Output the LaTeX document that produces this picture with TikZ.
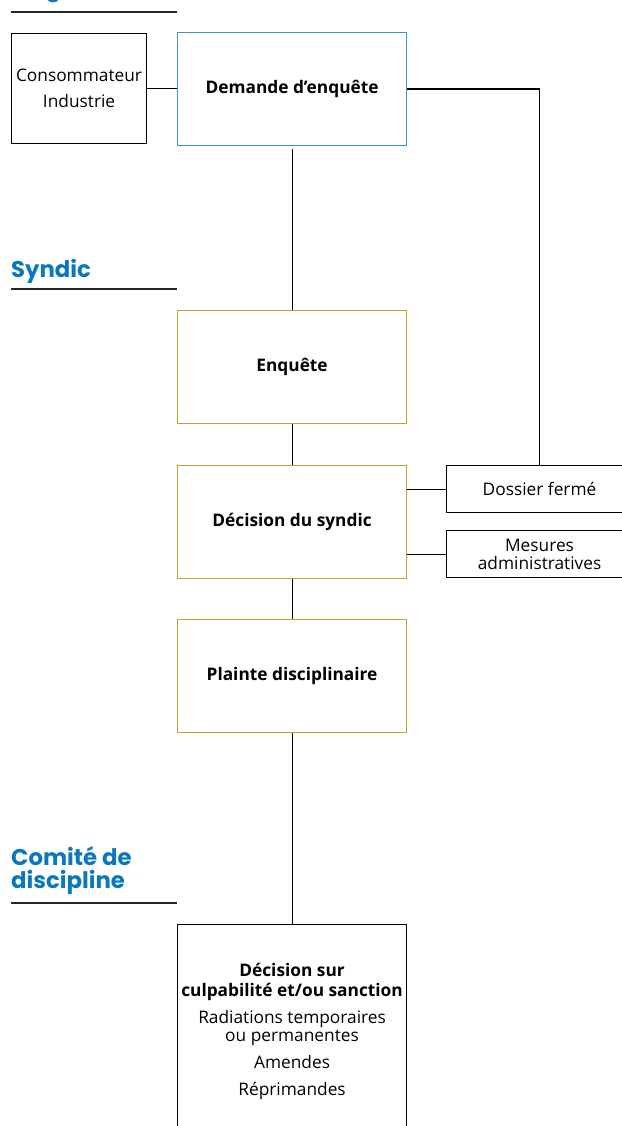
\documentclass[tikz,border=0pt]{standalone}
\usepackage{fontspec}
\setmainfont{Open Sans}
\newfontfamily\hdrfont{Poppins}[BoldFont={* Bold}]
\definecolor{hdrblue}{HTML}{0B78BE}
\definecolor{boxblue}{HTML}{3C93D0}
\definecolor{boxgold}{HTML}{C9A02E}
\tikzset{
  box/.style={draw, line width=1.1pt, inner sep=0pt, anchor=north west, align=center,
    font=\fontsize{17.3}{26}\selectfont},
  bigbox/.style={box, minimum width=229pt, minimum height=113pt},
  sidebox/.style={box, minimum width=186pt, minimum height=47pt},
  hdr/.style={anchor=base west, inner sep=0pt, text=hdrblue, align=left,
    font=\hdrfont\fontsize{22.8}{23}\selectfont\bfseries},
  rule/.style={line width=1.1pt, draw=black!85},
  link/.style={line width=1.1pt},
}
\begin{document}
\begin{tikzpicture}[x=1pt,y=-1pt]
\useasboundingbox (0,0) rectangle (621,1126);
% headers
\node[hdr] (h0) at (11,-3) {Origine};
\coordinate (h0a) at (11,12); \coordinate (h0b) at (177,12);
\draw[rule] (h0a) -- (h0b);
\node[hdr] (h1) at (11,277) {Syndic};
\coordinate (h1a) at (11,289); \coordinate (h1b) at (177,289);
\draw[rule] (h1a) -- (h1b);
\node[hdr] (h2) at (11,888) {Comité de\\discipline};
\coordinate (h2a) at (11,903); \coordinate (h2b) at (177,903);
\draw[rule] (h2a) -- (h2b);
% boxes
\node[box, minimum width=135pt, minimum height=110pt] (cons) at (11,33) {Consommateur\\Industrie};
\node[bigbox, draw=boxblue] (dem) at (177,32) {\bfseries Demande d’enquête};
\node[bigbox, draw=boxgold] (enq) at (177,310) {\bfseries Enquête};
\node[bigbox, draw=boxgold] (dec) at (177,465) {\bfseries Décision du syndic};
\node[bigbox, draw=boxgold] (pla) at (177,619) {\bfseries Plainte disciplinaire};
\node[sidebox] (dos) at (446,465) {Dossier fermé};
\node[sidebox, font=\fontsize{17.3}{18}\selectfont] (mes) at (446,530) {Mesures\\administratives};
\node[box, minimum width=229pt, minimum height=214pt] (cul) at (177,924)
  {{\bfseries Décision sur}\\[-6pt]{\bfseries culpabilité et/ou sanction}\\[1pt]
   Radiations temporaires\\[-8pt]ou permanentes\\[1pt]Amendes\\[1pt]Réprimandes};
% connectors
\draw[link] (cons.east) -- (cons.east -| dem.west);
\draw[link] (dem.east) -| (dos.north);
\draw[link] ([yshift=-3pt]dem.south) -- (enq.north);
\draw[link] (enq.south) -- (dec.north);
\draw[link] (dos.west) -- (dos.west -| dec.east);
\draw[link] (mes.west) -- (mes.west -| dec.east);
\draw[link] (dec.south) -- (pla.north);
\draw[link] (pla.south) -- (cul.north);
\end{tikzpicture}
\end{document}
